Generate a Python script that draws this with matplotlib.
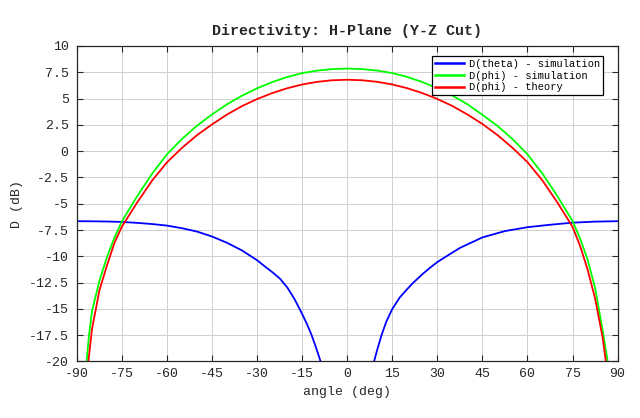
import numpy as np
import matplotlib
matplotlib.use('Agg')
from matplotlib import pyplot as plt

# D(theta) - simulation (blue): two branches either side of the null at 0 deg
theta_l_ang = [-90, -85, -80, -75, -70, -65, -60, -55, -50, -45, -40, -35, -30,
               -27.5, -25, -22.5, -20, -17.5, -15, -13.5, -12, -10.5, -9, -8]
theta_l_val = [-6.66, -6.67, -6.69, -6.73, -6.82, -6.93, -7.08, -7.33, -7.65, -8.12, -8.72, -9.45, -10.38,
               -10.95, -11.5, -12.1, -12.95, -14.1, -15.5, -16.4, -17.4, -18.6, -19.9, -21.0]
theta_r_ang = [8, 9, 10, 11.4, 13, 15, 17.5, 20, 22, 25, 27.5, 30, 33, 37.5,
               45, 52.5, 60, 67.5, 75, 82.5, 90]
theta_r_val = [-21.1, -19.9, -18.85, -17.5, -16.2, -15.0, -13.9, -13.1, -12.5, -11.7, -11.1, -10.54, -10.0, -9.2,
               -8.2, -7.6, -7.23, -7.0, -6.8, -6.7, -6.66]

# D(phi) - simulation (green)
phi_sim_ang = [-87.8, -86.8, -86.0, -85, -82.5, -80, -77.5, -75, -70, -65, -60, -55, -50,
               -45, -40, -35, -30, -25, -20, -15, -10, -5, 0,
               5, 10, 15, 20, 25, 30, 35, 40, 45, 50, 55, 60, 65, 70, 75,
               77.5, 80, 82.5, 85, 86.7, 87.7]
phi_sim_val = [-24.0, -20.0, -17.5, -15.2, -12.3, -10.05, -8.2, -6.65, -4.3, -2.15, -0.28, 1.17, 2.43,
               3.5, 4.46, 5.28, 5.98, 6.57, 7.05, 7.42, 7.66, 7.8, 7.85,
               7.8, 7.66, 7.42, 7.05, 6.57, 5.98, 5.28, 4.46, 3.45, 2.4, 1.15, -0.3, -2.15, -4.3, -6.65,
               -8.3, -10.3, -13.0, -17.0, -20.0, -24.0]

# D(phi) - theory (red)
phi_th_ang = [-87.5, -86.2, -85, -82.5, -80, -77.5, -75, -70, -65, -60, -55, -50,
              -45, -40, -35, -30, -25, -20, -15, -10, -5, 0,
              5, 10, 15, 20, 25, 30, 35, 40, 45, 50, 55, 60, 65, 70, 75,
              77.5, 80, 82.5, 85, 86.1, 87.3]
phi_th_val = [-25.0, -20.0, -16.9, -13.2, -10.85, -8.7, -7.15, -4.9, -2.8, -1.05, 0.32, 1.53,
              2.55, 3.49, 4.29, 4.96, 5.52, 5.98, 6.34, 6.59, 6.74, 6.79,
              6.74, 6.59, 6.34, 5.98, 5.52, 4.96, 4.29, 3.49, 2.58, 1.53, 0.32, -1.05, -2.8, -4.9, -7.2,
              -9.0, -11.25, -14.0, -17.7, -20.0, -25.0]

x_ticks = list(range(-90, 91, 15))
y_ticks = list(np.arange(-20, 10.01, 2.5))

font = 'Liberation Mono'
dark = '#262626'

fig = plt.figure(figsize=(6.4, 4.18), dpi=100, facecolor='white')
ax = fig.add_axes([0.1203, 0.1352, 0.8447, 0.7548])

ax.plot(theta_l_ang, theta_l_val, color='#0000ff', lw=1.3, label='D(theta) - simulation')
ax.plot(theta_r_ang, theta_r_val, color='#0000ff', lw=1.3)
ax.plot(phi_sim_ang, phi_sim_val, color='#00ff00', lw=1.3, label='D(phi) - simulation')
ax.plot(phi_th_ang, phi_th_val, color='#ff0000', lw=1.3, label='D(phi) - theory')

ax.set_xlim(-90, 90)
ax.set_ylim(-20, 10)
ax.set_xticks(x_ticks)
ax.set_yticks(y_ticks)
ax.set_xticklabels([str(v) for v in x_ticks], fontfamily=font, fontsize=9.5, color=dark)
ax.set_yticklabels(['%g' % v for v in y_ticks], fontfamily=font, fontsize=9.5, color=dark)
ax.tick_params(direction='in', length=4, width=0.8, colors=dark, top=True, right=True)
ax.tick_params(axis='x', pad=5)
ax.tick_params(axis='y', pad=6)
for s in ax.spines.values():
    s.set_color(dark)
    s.set_linewidth(0.9)

ax.grid(True, color='#cfcfcf', linewidth=0.7)
ax.set_axisbelow(True)

ax.set_xlabel('angle (deg)', fontfamily=font, fontsize=9.5, color=dark, labelpad=4)
ax.set_ylabel('D (dB)', fontfamily=font, fontsize=9.5, color=dark, labelpad=4)
ax.set_title('Directivity: H-Plane (Y-Z Cut)', fontfamily=font, fontsize=10.8,
             fontweight='bold', color=dark, pad=8)

leg = ax.legend(loc='upper right', bbox_to_anchor=(603 / 640, 1 - 56 / 418),
                bbox_transform=fig.transFigure, borderaxespad=0,
                prop={'family': font, 'size': 7.5},
                frameon=True, fancybox=False, edgecolor='black', framealpha=1,
                handlelength=2.8, handletextpad=0.45, borderpad=0.3, labelspacing=0.15)
leg.get_frame().set_linewidth(0.9)
for ln in leg.get_lines():
    ln.set_linewidth(1.8)

fig.savefig('out.png', dpi=100)
